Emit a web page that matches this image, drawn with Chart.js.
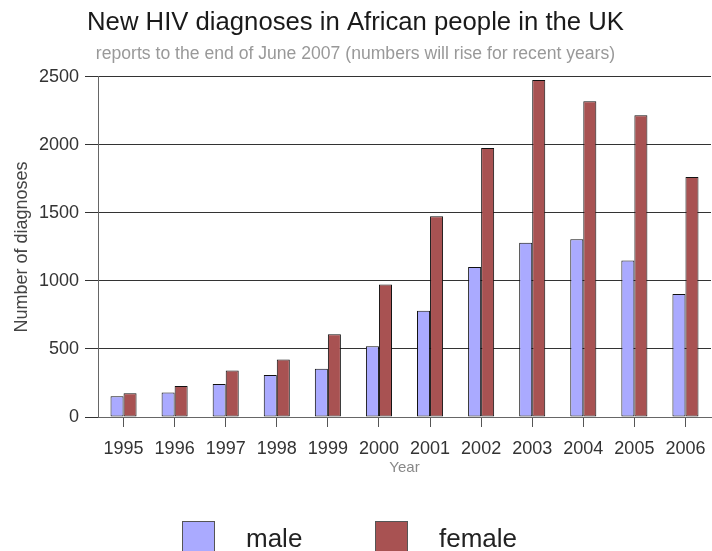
<!DOCTYPE html>
<html>
<head>
<meta charset="utf-8">
<script src="https://cdn.jsdelivr.net/npm/chart.js@4/dist/chart.umd.min.js"></script>
<style>
  html, body { margin: 0; padding: 0; background: #fff; }
  #wrap { position: relative; width: 712px; height: 551px; overflow: hidden; }
  #legend { position: absolute; left: 0; top: 521px; width: 712px; font-family: "Liberation Sans", Arial, sans-serif; }
  .item { position: absolute; top: 0; }
  .box { position: absolute; top: 0; width: 31px; height: 34px; border: 1px solid #555; }
  .lbl { position: absolute; top: 2px; font-size: 26px; color: #222; white-space: nowrap; }
</style>
</head>
<body>
<div id="wrap">
  <canvas id="chart" width="712" height="551"></canvas>
  <div id="legend"></div>
</div>
<script>
var years = ["1995", "1996", "1997", "1998", "1999", "2000", "2001", "2002", "2003", "2004", "2005", "2006"];
var male = [152, 181, 242, 308, 354, 520, 782, 1102, 1281, 1307, 1151, 904];
var female = [174, 227, 342, 423, 608, 975, 1476, 1977, 2478, 2322, 2219, 1765];
var yTicks = [0, 500, 1000, 1500, 2000, 2500];

Chart.defaults.font.family = '"Liberation Sans", Arial, sans-serif';
Chart.defaults.color = "#333";

var ctx = document.getElementById("chart").getContext("2d");
var chart = new Chart(ctx, {
  type: "bar",
  data: {
    labels: years,
    datasets: [{
      label: "male",
      data: male,
      backgroundColor: "#aaaaff",
      borderColor: "#111",
      borderWidth: 1,
      borderSkipped: false,
      categoryPercentage: 0.51,
      barPercentage: 1.0
    }, {
      label: "female",
      data: female,
      backgroundColor: "#a85252",
      borderColor: "#111",
      borderWidth: 1,
      borderSkipped: false,
      categoryPercentage: 0.51,
      barPercentage: 1.0
    }]
  },
  options: {
    responsive: false,
    animation: false,
    layout: { padding: { left: 0, right: 1, top: 0, bottom: 70 } },
    plugins: {
      legend: { display: false },
      tooltip: { enabled: false },
      title: {
        display: true,
        text: "New HIV diagnoses in African people in the UK",
        color: "#1a1a1a",
        font: { size: 25.7, weight: "normal" },
        padding: { top: 7, bottom: 5 }
      },
      subtitle: {
        display: true,
        text: "reports to the end of June 2007 (numbers will rise for recent years)",
        color: "#999",
        font: { size: 17.6 },
        padding: { top: 1, bottom: 12 }
      }
    },
    scales: {
      x: {
        grid: {
          offset: false,
          drawOnChartArea: false,
          drawTicks: true,
          tickLength: 10,
          color: "#555"
        },
        border: { color: "#666", width: 1 },
        ticks: { color: "#333", font: { size: 18 }, padding: 11, maxRotation: 0, autoSkip: false },
        title: { display: true, text: "Year", color: "#888", font: { size: 15 }, padding: { top: 0, bottom: 4 } },
        afterFit: function (scale) {
          scale.height = 64;
          scale.paddingLeft = 0;
          scale.paddingRight = 0;
        }
      },
      y: {
        min: 0,
        max: 2500,
        afterBuildTicks: function (scale) {
          scale.ticks = yTicks.map(function (v) { return { value: v }; });
        },
        grid: { color: "#333", tickLength: 13 },
        border: { color: "#666", width: 1 },
        ticks: {
          color: "#333",
          font: { size: 18 },
          padding: 6,
          callback: function (v) { return String(v); }
        },
        title: { display: true, text: "Number of diagnoses", color: "#444", font: { size: 18 }, padding: { top: 11, bottom: 0 } },
        afterFit: function (scale) { scale.width = 98; }
      }
    }
  }
});

// legend built from the chart's own datasets
var legendX = [182, 375];
var legend = document.getElementById("legend");
chart.data.datasets.forEach(function (ds, i) {
  var item = document.createElement("div");
  item.className = "item";
  item.style.left = legendX[i] + "px";
  var box = document.createElement("div");
  box.className = "box";
  box.style.background = ds.backgroundColor;
  var lbl = document.createElement("div");
  lbl.className = "lbl";
  lbl.style.left = "64px";
  lbl.textContent = ds.label;
  item.appendChild(box);
  item.appendChild(lbl);
  legend.appendChild(item);
});
</script>
</body>
</html>
